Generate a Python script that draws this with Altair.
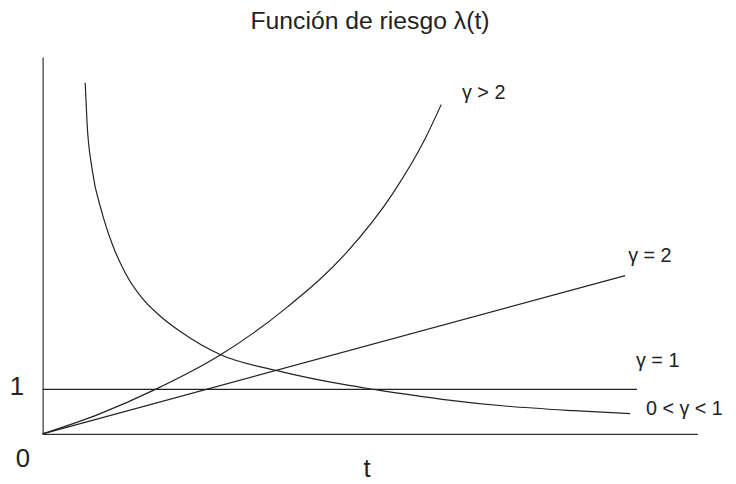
import altair as alt
import pandas as pd

# --- data (t in arbitrary units, lambda with "1" at the level line)
t_gt2 = [0, 0.861, 1.722, 2.719, 3.731, 4.637, 5.347, 5.846, 6.088]
lam_gt2 = [0, 0.444, 1.0, 1.778, 2.844, 4.067, 5.4, 6.644, 7.4]

t_eq2 = [0, 8.897]
lam_eq2 = [0, 3.556]

t_eq1 = [0, 9.079]
lam_eq1 = [1, 1]

t_lt1 = [0.650, 0.680, 0.755, 0.906, 1.057, 1.269, 1.511, 1.798, 2.115, 2.719,
         3.580, 4.637, 5.060, 6.103, 7.100, 8.112, 8.973]
lam_lt1 = [7.889, 6.956, 5.956, 4.978, 4.289, 3.600, 3.067, 2.644, 2.289, 1.778,
           1.422, 1.1, 1.0, 0.778, 0.622, 0.522, 0.456]

curve_labels = ["γ > 2", "γ = 2", "γ = 1", "0 < γ < 1"]
curve_label_t = [6.405, 8.943, 9.063, 9.215]
curve_label_lam = [7.533, 3.867, 1.511, 0.422]

axis_labels = ["1", "0", "t"]
axis_label_t = [-0.393, -0.302, 4.955]
axis_label_lam = [0.867, -0.733, -0.97]

title_text = "Función de riesgo λ(t)"

rows = []
for name, ts, ls in [("gt2", t_gt2, lam_gt2), ("eq2", t_eq2, lam_eq2),
                     ("eq1", t_eq1, lam_eq1), ("lt1", t_lt1, lam_lt1)]:
    for a, b in zip(ts, ls):
        rows.append({"serie": name, "t": a, "lam": b})
lines_df = pd.DataFrame(rows)

clab_df = pd.DataFrame({"txt": curve_labels, "t": curve_label_t, "lam": curve_label_lam})
alab_df = pd.DataFrame({"txt": axis_labels, "t": axis_label_t, "lam": axis_label_lam})

FONT = "Liberation Sans"
xs = alt.Scale(domain=[0, 10], nice=False, zero=False)
ys = alt.Scale(domain=[0, 8.467], nice=False, zero=False)
xax = alt.Axis(title=None, labels=False, ticks=False, grid=False,
               domainColor="#333333", domainWidth=1.2)
yax = alt.Axis(title=None, labels=False, ticks=False, grid=False,
               domainColor="#333333", domainWidth=1.2)

X = alt.X("t:Q", scale=xs, axis=xax)
Y = alt.Y("lam:Q", scale=ys, axis=yax)

lines = alt.Chart(lines_df).mark_line(
    color="#222222", strokeWidth=1.2, interpolate="monotone"
).encode(x=X, y=Y, detail="serie:N")

clabels = alt.Chart(clab_df).mark_text(
    align="left", baseline="alphabetic", font=FONT, fontSize=20, color="#222222"
).encode(x=X, y=Y, text="txt:N")

alabels = alt.Chart(alab_df).mark_text(
    align="center", baseline="alphabetic", font=FONT, fontSize=26, color="#222222"
).encode(x=X, y=Y, text="txt:N")

chart = alt.layer(lines, clabels, alabels).properties(
    width=662,
    height=381,
    background="white",
    title=alt.TitleParams(title_text, fontSize=25, font=FONT, fontWeight="normal",
                          color="#222222", anchor="middle", baseline="alphabetic", offset=3),
    autosize=alt.AutoSizeParams(type="none"),
    padding={"left": 35, "top": 47, "right": 31, "bottom": 48},
).configure_view(stroke="transparent", strokeWidth=0)

chart.save("out.html", embed_options={"renderer": "svg", "actions": False})
